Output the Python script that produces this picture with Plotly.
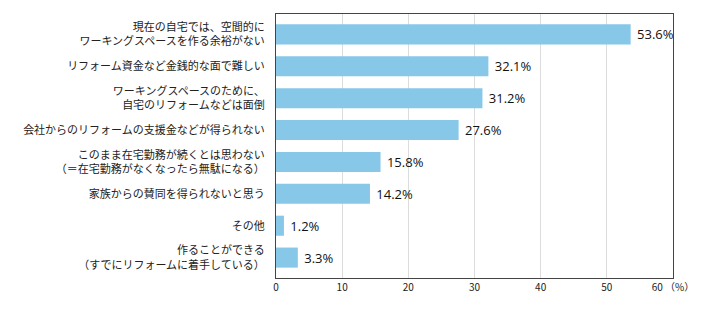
import plotly.graph_objects as go

categories = [
    "現在の自宅では、空間的に<br>ワーキングスペースを作る余裕がない",
    "リフォーム資金など金銭的な面で難しい",
    "ワーキングスペースのために、<br>自宅のリフォームなどは面倒",
    "会社からのリフォームの支援金などが得られない",
    "このまま在宅勤務が続くとは思わない<br>（＝在宅勤務がなくなったら無駄になる）",
    "家族からの賛同を得られないと思う",
    "その他",
    "作ることができる<br>（すでにリフォームに着手している）",
]
values = [53.6, 32.1, 31.2, 27.6, 15.8, 14.2, 1.2, 3.3]
tick_vals = [0, 10, 20, 30, 40, 50, 60]
tick_text = ["0", "10", "20", "30", "40", "50", "60 （%）"]

fig = go.Figure(go.Bar(
    x=values,
    y=categories,
    orientation="h",
    marker=dict(color="#87C8E8", line=dict(width=0)),
    width=0.63,
    text=[f" {v:.1f}%" for v in values],
    textposition="outside",
    cliponaxis=False,
    textfont=dict(family="Open Sans, Noto Sans, sans-serif", size=13, color="#111111"),
))

fig.update_layout(
    width=720, height=310,
    margin=dict(l=276, r=47, t=14, b=32),
    paper_bgcolor="white", plot_bgcolor="white",
    showlegend=False,
    font=dict(family="Noto Sans CJK JP, sans-serif", size=11, color="#222222"),
)
fig.update_xaxes(
    range=[0, 60], tickvals=tick_vals, ticktext=tick_text,
    showgrid=True, gridcolor="#dcdcdc", gridwidth=1,
    showline=True, linecolor="#444444", linewidth=1, mirror=True,
    zeroline=False, ticks="", tickfont=dict(size=10, color="#222222"),
)
fig.update_yaxes(
    autorange=False, range=[7.64, -0.64],
    showline=True, linecolor="#444444", linewidth=1, mirror=True,
    ticks="", ticklabelstandoff=8, tickfont=dict(size=11, color="#222222"),
)

fig.write_html("out.html")
